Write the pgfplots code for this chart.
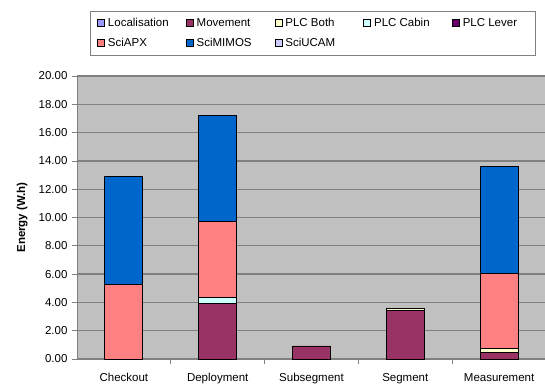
\documentclass[border=0pt]{standalone}
\usepackage{pgfplots}
\pgfplotsset{compat=1.18}
\usepackage{pgfplotstable}
\usepackage{fontspec}
\setmainfont{Liberation Sans}

\definecolor{cLoc}{HTML}{9999FF}
\definecolor{cMov}{HTML}{993366}
\definecolor{cBoth}{HTML}{FFFFCC}
\definecolor{cCabin}{HTML}{CCFFFF}
\definecolor{cLever}{HTML}{660066}
\definecolor{cAPX}{HTML}{FF8080}
\definecolor{cMIMOS}{HTML}{0066CC}
\definecolor{cUCAM}{HTML}{CCCCFF}
\definecolor{plotbg}{HTML}{C0C0C0}
\definecolor{gridc}{HTML}{808080}

% energy per phase and consumer (W.h)
\pgfplotstableread{
x Loc  Mov  Both Cabin Lever APX  MIMOS UCAM
0 0    0    0    0     0     5.30 7.57  0.06
1 0    3.90 0    0.45  0     5.35 7.50  0.05
2 0    0.92 0    0     0     0    0     0
3 0    3.42 0.18 0     0     0    0     0
4 0    0.45 0.28 0     0     5.32 7.55  0
}\energy

\begin{document}
\begin{tikzpicture}
\useasboundingbox (-77pt,-27pt) rectangle (468pt,359pt);
\begin{axis}[
  at={(0pt,0pt)}, anchor=south west,
  scale only axis, width=469pt, height=283pt,
  font=\fontsize{11.5}{13}\selectfont,
  ybar stacked, bar width=38pt,
  axis background/.style={fill=plotbg},
  xmin=-0.5, xmax=4.5, ymin=0, ymax=20,
  xtick={0,1,2,3,4},
  xticklabels={Checkout,Deployment,Subsegment,Segment,Measurement},
  minor xtick={0.5,1.5,2.5,3.5},
  major x tick style={draw=none},
  minor x tick style={gridc, line width=0.8pt},
  minor tick length=5pt,
  ytick={0,2,...,20},
  ymajorgrids, grid style={gridc, line width=1.3pt},
  major y tick style={gridc, line width=0.8pt},
  major tick length=5pt,
  tick align=outside, tick pos=left,
  axis x line*=bottom, axis y line*=left,
  axis line style={gridc, line width=0.8pt},
  /pgf/number format/.cd, fixed, fixed zerofill, precision=2, assume math mode=true,
  /pgfplots/.cd,
  xticklabel style={yshift=-6pt},
  yticklabel style={xshift=-1pt},
  ylabel={\bfseries Energy (W.h)},
  ylabel style={at={(axis description cs:-0.117,0.5)}, anchor=center, rotate=0},
  every axis plot post/.append style={draw=black, line width=0.8pt,
    legend image code/.code={\draw[##1, line width=0.7pt] (0pt,-3.5pt) rectangle (7pt,3.5pt);}},
  legend columns=5,
  legend cell align=left,
  legend style={at={(0.0277,1.2297)}, anchor=north west, draw=gridc, line width=0.6pt,
    fill=white, inner xsep=7pt, inner ysep=6pt,
    nodes={inner sep=0pt, text height=9pt, text depth=3pt},
    row sep=8pt, column sep=0pt,
    /tikz/every odd column/.append style={column sep=3pt},
    font=\fontsize{11.5}{13}\selectfont},
]
\addplot[fill=cLoc]   table[x=x,y=Loc]   {\energy};
\addlegendentry{\makebox[78pt][l]{Localisation}}
\addplot[fill=cMov]   table[x=x,y=Mov]   {\energy};
\addlegendentry{\makebox[78pt][l]{Movement}}
\addplot[fill=cBoth]  table[x=x,y=Both]  {\energy};
\addlegendentry{\makebox[78pt][l]{PLC Both}}
\addplot[fill=cCabin] table[x=x,y=Cabin] {\energy};
\addlegendentry{\makebox[78pt][l]{PLC Cabin}}
\addplot[fill=cLever] table[x=x,y=Lever] {\energy};
\addlegendentry{\makebox[66pt][l]{PLC Lever}}
\addplot[fill=cAPX]   table[x=x,y=APX]   {\energy};
\addlegendentry{\makebox[78pt][l]{SciAPX}}
\addplot[fill=cMIMOS] table[x=x,y=MIMOS] {\energy};
\addlegendentry{\makebox[78pt][l]{SciMIMOS}}
\addplot[fill=cUCAM]  table[x=x,y=UCAM]  {\energy};
\addlegendentry{\makebox[78pt][l]{SciUCAM}}
\end{axis}
\end{tikzpicture}
\end{document}
